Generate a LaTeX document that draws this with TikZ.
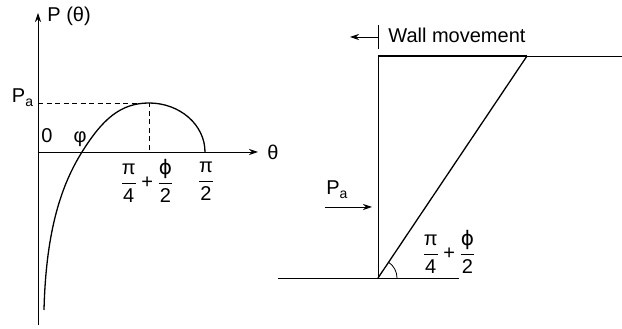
\documentclass[tikz,border=0pt]{standalone}
\usepackage{fontspec}
\setmainfont{Liberation Sans}
\newfontfamily\grk{DejaVu Sans}
\usetikzlibrary{arrows.meta}
\begin{document}
\begin{tikzpicture}[x=1pt,y=1pt,line width=0.8pt,every node/.style={inner sep=1pt, font=\fontsize{20}{23}\selectfont},
  axis/.style={-{Stealth[length=9pt,width=6pt]}},
  guide/.style={dash pattern=on 5pt off 3.5pt},
  curve/.style={line width=1.3pt}]
\useasboundingbox (0,0) rectangle (622,329);
% left plot: P(theta)
\coordinate (O) at (38,177);
\coordinate (ybot) at (38,4);
\coordinate (ytop) at (38,316);
\coordinate (xtip) at (258,177);
\coordinate (pk) at (149,226);
\coordinate (pkx) at (149,177);
\coordinate (pay) at (38,226);
\coordinate (c0) at (44,19);
\coordinate (c1) at (82,177);
\coordinate (c2) at (205,177);
\draw (ybot) -- (O);
\draw[axis] (O) -- (ytop);
\draw[axis] (O) -- (xtip);
\draw[guide] (pay) -- (pk) -- (pkx);
\draw[curve] (c0) .. controls (46,100) and (62,145) .. (c1)
  .. controls (102,209) and (120,226) .. (pk)
  arc[start angle=90,end angle=0,x radius=56,y radius=49];
\node[anchor=west] (ptheta) at (46,313) {P (θ)};
\node (theta) at (273,177) {θ};
\node[anchor=base east] (pa1) at (35,226) {P\textsubscript{a}};
\node[anchor=base] (zero) at (47,186) {0};
\node[anchor=base] (phi) at (80,186) {φ};
\node (frac1) at (147,148) {$\displaystyle\frac{\mbox{π}}{\mbox{4}}\mathbin{\mbox{+}}\frac{\mbox{\grk ϕ}}{\mbox{2}}$};
\node (frac2) at (206,148) {$\displaystyle\frac{\mbox{π}}{\mbox{2}}$};
% right: wall
\coordinate (wb) at (378,51);
\coordinate (wt) at (378,273);
\coordinate (tk0) at (378,280);
\coordinate (tk1) at (378,304);
\coordinate (mv0) at (378,292);
\coordinate (mv) at (350,292);
\coordinate (gl) at (278,51);
\coordinate (gr) at (459,51);
\coordinate (sl) at (527,273);
\coordinate (tr) at (622,273);
\coordinate (pa0) at (325,122);
\coordinate (pa2) at (372,122);
\draw (wb) -- (wt);
\draw (tk0) -- (tk1);
\draw[axis] (mv0) -- (mv);
\draw (gl) -- (gr);
\draw[line width=1.6pt] (wt) -- (sl);
\draw (sl) -- (tr);
\draw[curve] (wb) -- (sl);
\draw (397,51) arc[start angle=0,end angle=56,radius=19];
\draw[axis] (pa0) -- (pa2);
\node[anchor=base west] (wall) at (387,286) {Wall movement};
\node[anchor=base west] (pa) at (325,134) {P\textsubscript{a}};
\node (frac3) at (449,77) {$\displaystyle\frac{\mbox{π}}{\mbox{4}}\mathbin{\mbox{+}}\frac{\mbox{\grk ϕ}}{\mbox{2}}$};
\end{tikzpicture}
\end{document}
